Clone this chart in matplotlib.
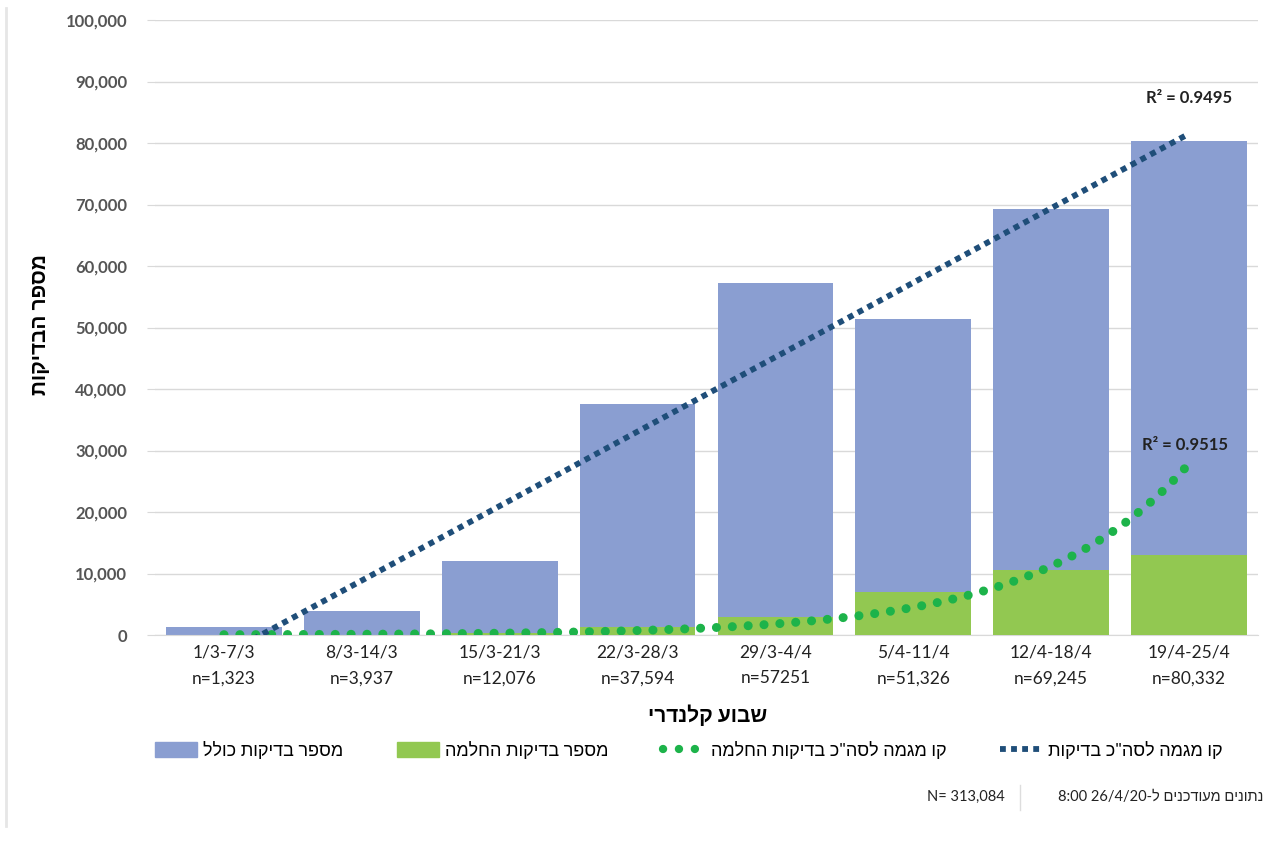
import numpy as np
import matplotlib
matplotlib.use("Agg")
import matplotlib.pyplot as plt
from matplotlib.patches import Patch
from matplotlib.lines import Line2D

plt.rcParams['font.family'] = ['Lato', 'Liberation Sans', 'DejaVu Sans']

# --- data ---
weeks = ["1/3-7/3", "8/3-14/3", "15/3-21/3", "22/3-28/3",
         "29/3-4/4", "5/4-11/4", "12/4-18/4", "19/4-25/4"]
n_labels = ["n=1,323", "n=3,937", "n=12,076", "n=37,594",
            "n=57251", "n=51,326", "n=69,245", "n=80,332"]
total_tests = [1323, 3937, 12076, 37594, 57251, 51326, 69245, 80332]
recovery_tests = [40, 50, 400, 1300, 2900, 7000, 10600, 13000]
r2_total = "R² = 0.9495"
r2_recovery = "R² = 0.9515"


def heb(s):
    # matplotlib has no bidi: put hebrew in visual order
    return s[::-1]


x = np.arange(len(weeks))
x1 = x + 1  # excel trendline x values

# trendlines (same fit types as excel: linear / exponential)
lin = np.polyfit(x1, total_tests, 1)
expo = np.polyfit(x1, np.log(recovery_tests), 1)
xs = np.linspace(1, len(weeks), 200)
lin_y = np.polyval(lin, xs)
exp_y = np.exp(np.polyval(expo, xs))

fig = plt.figure(figsize=(12.75, 8.43), dpi=100)
ax = fig.add_axes([155/1275, 1-635/843, (1258-155)/1275, (635-20)/843])

blue = '#8a9ed1'
green = '#92c851'
green_dot = '#1db34a'
navy = '#1f4e79'
ax.bar(x, total_tests, width=0.84, color=blue, zorder=2)
ax.bar(x, recovery_tests, width=0.84, color=green, zorder=3)

ax.plot(xs - 1, exp_y, color=green_dot, lw=6.5, linestyle=(0, (0.01, 1.75)),
        dash_capstyle='round', zorder=4)
ax.plot(xs - 1, lin_y, color=navy, lw=4.2, linestyle=(0, (1, 0.9)),
        dash_capstyle='butt', zorder=5)

ax.text(7, 87300, r2_total, ha='center', va='center', fontsize=12,
        fontweight='bold', color='#222222')
ax.text(6.97, 30900, r2_recovery, ha='center', va='center', fontsize=12,
        fontweight='bold', color='#222222')

ax.set_xlim(-0.5, 7.5)
ax.set_ylim(0, 100000)
ax.set_yticks(np.arange(0, 100001, 10000))
ax.set_yticklabels([f"{v:,}" for v in range(0, 100001, 10000)])
ax.set_xticks(x)
ax.set_xticklabels([f"{w}\n{n}" for w, n in zip(weeks, n_labels)],
                   fontsize=12.5, linespacing=1.75, color='#222222')
ax.tick_params(axis='x', length=0, pad=7)
ax.tick_params(axis='y', length=6, color='#d9d9d9', labelsize=12,
               labelcolor='#555555', pad=14)
for lab in ax.get_yticklabels():
    lab.set_fontweight('bold')

ax.grid(axis='y', color='#d9d9d9', lw=1, zorder=0)
ax.set_axisbelow(True)
for s in ['top', 'right', 'left']:
    ax.spines[s].set_visible(False)
ax.spines['bottom'].set_color('#d9d9d9')

fig.text(708/1275, 1-715/843, heb("שבוע קלנדרי"), ha='center', va='center',
         fontsize=15, fontweight='bold')
fig.text(40/1275, 1-325/843, heb("מספר הבדיקות"), ha='center', va='center',
         rotation=90, fontsize=15, fontweight='bold')

handles = [
    Patch(color=blue),
    Patch(color=green),
    Line2D([], [], color=green_dot, lw=6, linestyle=(0, (0.01, 1.9)),
           dash_capstyle='round'),
    Line2D([], [], color=navy, lw=4.2, linestyle=(0, (1, 0.9))),
]
labels = [heb("מספר בדיקות כולל"), heb("מספר בדיקות החלמה"),
          heb('קו מגמה לסה"כ בדיקות החלמה'), heb('קו מגמה לסה"כ בדיקות')]
fig.legend(handles, labels, loc='center', bbox_to_anchor=(689/1275, 1-750/843),
           ncol=4, frameon=False, fontsize=13, handlelength=2.3,
           handleheight=0.9, columnspacing=3.0, handletextpad=0.35)

fig.text(1005/1275, 1-797/843, "N= 313,084", ha='right', va='center',
         fontsize=10.5, color='#222222')
fig.text(1263/1275, 1-797/843, "8:00 26/4/20-" + heb("ל") + " " + heb("מעודכנים")
         + " " + heb("נתונים"), ha='right', va='center', fontsize=10.5,
         color='#222222')
fig.add_artist(Line2D([1020/1275, 1020/1275], [1-785/843, 1-810/843],
                      color='#dddddd', lw=1))
# faint frame of the embedded picture
fig.add_artist(Line2D([6/1275, 6/1275], [0.02, 0.99], color='#e6e6e6', lw=2))

fig.savefig("out.png", dpi=100)
